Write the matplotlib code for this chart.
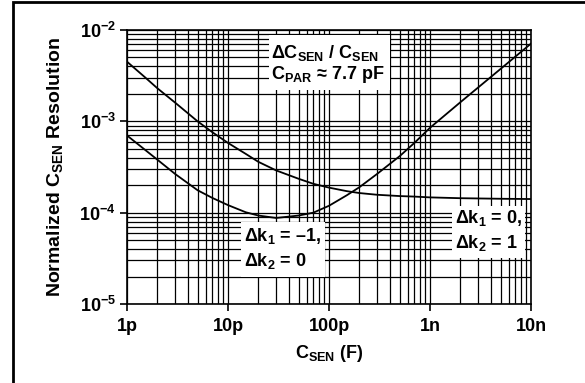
import numpy as np
import matplotlib
matplotlib.use('Agg')
import matplotlib.pyplot as plt
from matplotlib.patches import Rectangle

plt.rcParams['font.family'] = ['Liberation Sans', 'DejaVu Sans']
plt.rcParams['font.weight'] = 'bold'
plt.rcParams['mathtext.fontset'] = 'custom'
plt.rcParams['mathtext.rm'] = 'Liberation Sans:bold'
plt.rcParams['mathtext.bf'] = 'Liberation Sans:bold'
plt.rcParams['mathtext.it'] = 'Liberation Sans:bold'
plt.rcParams['mathtext.default'] = 'rm'

# sensor capacitance in pF
csen_pf = [1, 1.5, 2, 3, 5, 7, 10, 15, 20, 30, 50, 70, 100, 150, 200, 300,
           500, 700, 1000, 2000, 5000, 10000]
# dk1 = 0, dk2 = 1
res_k2 = [4.5e-3, 3.05e-3, 2.3e-3, 1.6e-3, 1.0e-3, 7.6e-4, 5.8e-4, 4.4e-4,
          3.6e-4, 2.9e-4, 2.35e-4, 2.07e-4, 1.88e-4, 1.72e-4, 1.64e-4,
          1.57e-4, 1.52e-4, 1.5e-4, 1.47e-4, 1.44e-4, 1.42e-4, 1.41e-4]
# dk1 = -1, dk2 = 0
res_k1 = [7.0e-4, 4.9e-4, 3.8e-4, 2.65e-4, 1.76e-4, 1.45e-4, 1.21e-4, 1.01e-4,
          9.3e-5, 8.75e-5, 9.3e-5, 1.0e-4, 1.19e-4, 1.55e-4, 1.9e-4,
          2.66e-4, 4.15e-4, 5.8e-4, 8.5e-4, 1.62e-3, 3.75e-3, 7.1e-3]

x_ticks = [1e-12, 1e-11, 1e-10, 1e-9, 1e-8]
x_labels = ['1p', '10p', '100p', '1n', '10n']
y_ticks = [1e-5, 1e-4, 1e-3, 1e-2]
y_labels = ['$10^{-5}$', '$10^{-4}$', '$10^{-3}$', '$10^{-2}$']

csen = np.array(csen_pf) * 1e-12

fig = plt.figure(figsize=(5.85, 3.83), dpi=100)
ax = fig.add_axes([127 / 585, 1 - 304 / 383, 404 / 585, 274 / 383])

ax.plot(csen, res_k2, color='black', lw=1.3, zorder=3)
ax.plot(csen, res_k1, color='black', lw=1.3, zorder=3)

ax.set_xscale('log')
ax.set_yscale('log')
ax.set_xlim(1e-12, 1e-8)
ax.set_ylim(1e-5, 1e-2)
ax.set_xticks(x_ticks, labels=x_labels)
ax.set_yticks(y_ticks, labels=y_labels)
ax.grid(True, which='both', color='black', lw=0.9, zorder=1)
ax.tick_params(which='major', direction='out', length=5, width=1.2,
               labelsize=13, pad=3)
ax.tick_params(axis='x', which='major', pad=5)
ax.tick_params(which='minor', length=0)
for sp in ax.spines.values():
    sp.set_linewidth(1.2)

ax.set_xlabel('C$_{SEN}$ (F)', fontsize=13, fontweight='bold')
ax.set_ylabel('Normalized C$_{SEN}$ Resolution', fontsize=14, fontweight='bold')
ax.xaxis.set_label_coords(0.5, (304 - 353) / 274)
ax.xaxis.label.set_va('center')
ax.yaxis.set_label_coords((55 - 127) / 404, 0.5)
ax.yaxis.label.set_va('center')

# annotation boxes
boxes = [
    (0.351, 0.781, 0.300, 0.201),
    (0.282, 0.0985, 0.208, 0.2005),
    (0.804, 0.168, 0.181, 0.190),
]
for bx, by, bw, bh in boxes:
    ax.add_patch(Rectangle((bx, by), bw, bh, transform=ax.transAxes,
                           facecolor='white', edgecolor='none', zorder=4))

txt = dict(transform=ax.transAxes, fontsize=13, fontweight='bold',
           ha='left', va='center', zorder=5)
ax.text(0.357, 0.916, '\u0394C$_{SEN}$ / C$_{SEN}$', **txt)
ax.text(0.357, 0.839, 'C$_{PAR}$ \u2248 7.7 pF', **txt)
ax.text(0.290, 0.250, '\u0394k$_1$ = \u20131,', **txt)
ax.text(0.290, 0.157, '\u0394k$_2$ = 0', **txt)
ax.text(0.812, 0.314, '\u0394k$_1$ = 0,', **txt)
ax.text(0.812, 0.224, '\u0394k$_2$ = 1', **txt)

# outer frame
fig.add_artist(Rectangle((12.5 / 585, -0.05), 1.2, 1.05 - 2 / 383,
                         transform=fig.transFigure, fill=False,
                         edgecolor='black', lw=2, clip_on=False))

plt.savefig('out.png', dpi=100)
